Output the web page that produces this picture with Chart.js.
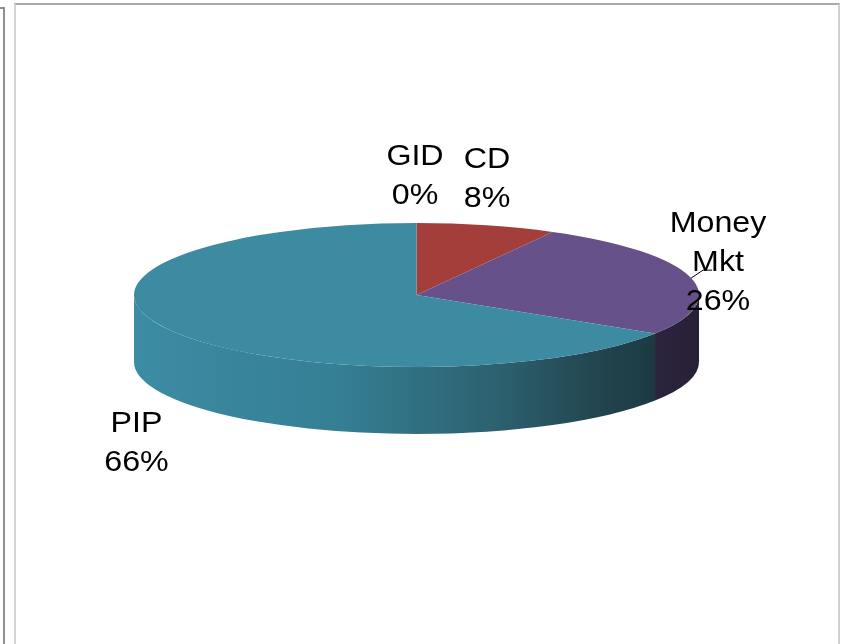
<!DOCTYPE html>
<html>
<head>
<meta charset="utf-8">
<script src="https://cdn.jsdelivr.net/npm/chart.js@4.4.0/dist/chart.umd.min.js"></script>
<style>
  html, body { margin: 0; padding: 0; background: #fff; overflow: hidden; }
  #wrap { position: relative; width: 842px; height: 644px; }
  .frag { position: absolute; left: -20px; top: 7px; width: 23px; height: 700px;
          border-top: 2px solid #8e8e8e; border-right: 2px solid #8e8e8e; }
  .frame { position: absolute; left: 14px; top: 3px; width: 822px; height: 700px;
           border-left: 2px solid #d4d4d4; border-top: 2px solid #aaaaaa; border-right: 2px solid #d0d0d0; }
  canvas { position: absolute; left: 0; top: 0; }
</style>
</head>
<body>
<div id="wrap">
  <div class="frag"></div>
  <div class="frame"></div>
  <canvas id="pieChart" width="842" height="644"></canvas>
</div>
<script>
// 계좌 유형별 비중 (%)
const categories = ['GID', 'CD', 'Money Mkt', 'PIP'];
const shares = [0, 8, 26, 66];

const topColors = ['#4F81BD', '#A33E3A', '#67518A', '#3D8BA0'];
// 옆면 그라데이션 (왼쪽 -> 오른쪽)
const sideStops = [
  [[0, '#3A5F8C'], [1, '#1E3350']],
  [[0, '#7A2E2B'], [1, '#4A1B1A']],
  [[0, '#30283F'], [0.9, '#2E2540'], [1, '#272036']],
  [[0, '#3C8CA3'], [0.36, '#357F94'], [0.5, '#317082'], [0.65, '#2C606E'], [0.82, '#22454F'], [0.92, '#1D3A43'], [1, '#1C3840']]
];

// 라벨 위치 (파이 중심 기준), 지시선 여부
const labelOffsets = [[-1.5, -130], [70.5, -127], [301.5, -63], [-280, 137]];
const leaders = [false, false, true, false];

const TILT = 72 / 282.5;   // 윗면 세로 압축 비율
const DEPTH = 67;          // 옆면 두께
const LINE = 39;
const FONT_PX = 29;
const STRETCH = 1.11;

const pie3d = {
  id: 'pie3d',
  beforeDatasetsDraw(chart) {
    const ctx = chart.ctx;
    const arcs = chart.getDatasetMeta(0).data;
    const cx = arcs[0].x, cy = arcs[0].y, rx = arcs[0].outerRadius;
    const ry = rx * TILT;

    // 앞쪽(0..PI) 옆면만 보임
    arcs.forEach((arc, i) => {
      const s = Math.max(arc.startAngle, 0);
      const e = Math.min(arc.endAngle, Math.PI);
      if (e <= s) return;
      const g = ctx.createLinearGradient(cx - rx, 0, cx + rx, 0);
      sideStops[i].forEach(([p, c]) => g.addColorStop(p, c));
      ctx.beginPath();
      ctx.ellipse(cx, cy, rx, ry, 0, s, e);
      ctx.ellipse(cx, cy + DEPTH, rx, ry, 0, e, s, true);
      ctx.closePath();
      ctx.fillStyle = g;
      ctx.fill();
    });

    // 윗면은 세로로 눌러서 그림
    ctx.save();
    ctx.translate(cx, cy);
    ctx.scale(1, TILT);
    ctx.translate(-cx, -cy);
  },
  afterDatasetsDraw(chart) {
    const ctx = chart.ctx;
    ctx.restore();

    const arcs = chart.getDatasetMeta(0).data;
    const cx = arcs[0].x, cy = arcs[0].y, rx = arcs[0].outerRadius;
    const ry = rx * TILT;

    ctx.save();
    ctx.fillStyle = '#000';
    ctx.strokeStyle = '#000';
    ctx.lineWidth = 1;
    ctx.font = FONT_PX + 'px "Liberation Sans", Arial, sans-serif';
    ctx.textAlign = 'center';
    ctx.textBaseline = 'alphabetic';

    arcs.forEach((arc, i) => {
      const lines = categories[i].split(' ').concat(shares[i] + '%');
      const lx = cx + labelOffsets[i][0];
      const ly = cy + labelOffsets[i][1];
      lines.forEach((t, k) => {
        ctx.save();
        ctx.translate(lx, ly + k * LINE);
        ctx.scale(STRETCH, 1);
        ctx.fillText(t, 0, 0);
        ctx.restore();
      });

      if (leaders[i]) {
        const mid = (arc.startAngle + arc.endAngle) / 2;
        const px = cx + rx * Math.cos(mid);
        const py = cy + ry * Math.sin(mid);
        ctx.beginPath();
        ctx.moveTo(px + 1, py + 1);
        ctx.lineTo(px + 13, py - 7);
        ctx.lineTo(px + 22, py - 7);
        ctx.stroke();
      }
    });
    ctx.restore();
  }
};

const config = {
  type: 'pie',
  data: {
    labels: categories,
    datasets: [{
      data: shares,
      backgroundColor: topColors,
      borderWidth: 0,
      radius: 282.5,
      clip: false
    }]
  },
  options: {
    responsive: false,
    animation: false,
    events: [],
    layout: { padding: { left: 0, right: 9, top: 0, bottom: 54 } },
    plugins: {
      legend: { display: false },
      tooltip: { enabled: false }
    }
  },
  plugins: [pie3d]
};

new Chart(document.getElementById('pieChart'), config);
</script>
</body>
</html>
